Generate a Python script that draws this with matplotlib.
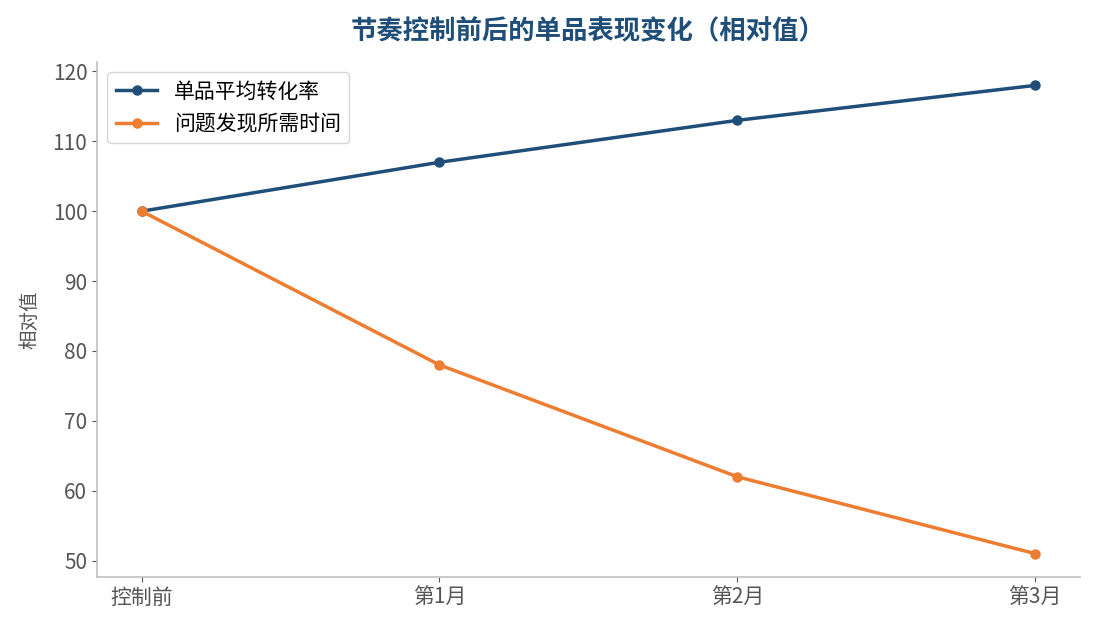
import matplotlib
matplotlib.use("Agg")
import matplotlib.pyplot as plt

plt.rcParams["font.family"] = ["Noto Sans CJK SC", "DejaVu Sans"]

stages = ["控制前", "第1月", "第2月", "第3月"]
conversion = [100, 107, 113, 118]
discovery_time = [100, 78, 62, 51]

fig = plt.figure(figsize=(10.95, 6.3), dpi=100)
ax = fig.add_axes([0.0886, 0.0841, 0.8974, 0.8175])

x = list(range(len(stages)))
ax.plot(x, conversion, "-o", color="#1f4e79", linewidth=2.5, markersize=6.5,
        label="单品平均转化率")
ax.plot(x, discovery_time, "-o", color="#ed7d31", linewidth=2.5, markersize=6.5,
        label="问题发现所需时间")

ax.set_xticks(x)
ax.set_xticklabels(stages)
ax.set_ylabel("相对值", fontsize=14, color="#555555", labelpad=9)
ax.set_title("节奏控制前后的单品表现变化（相对值）", fontsize=19, fontweight="bold",
             color="#1f4e79", pad=16)

for s in ["top", "right"]:
    ax.spines[s].set_visible(False)
for s in ["left", "bottom"]:
    ax.spines[s].set_color("#c0c0c0")
    ax.spines[s].set_linewidth(1.2)
ax.tick_params(colors="#555555", labelsize=15)

leg = ax.legend(loc="upper left", fontsize=15, frameon=True, fancybox=True)
leg.get_frame().set_edgecolor("#cccccc")

plt.savefig("out.png", dpi=100)
